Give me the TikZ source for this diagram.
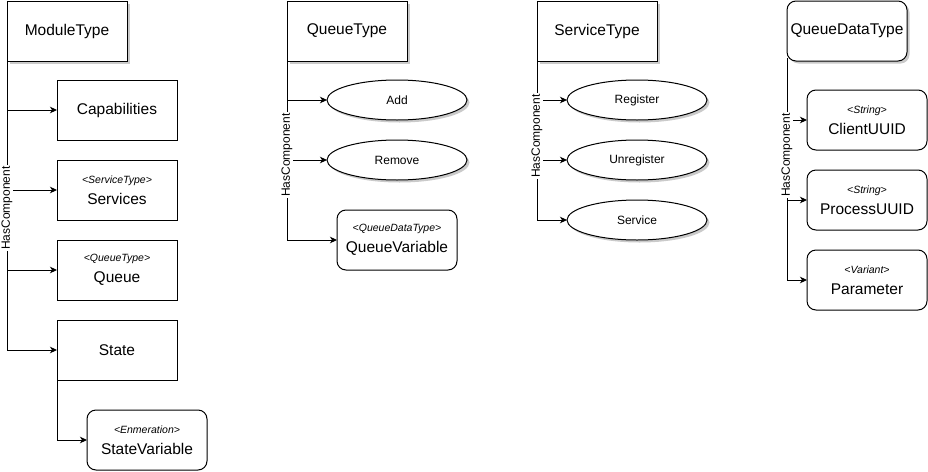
\documentclass[tikz,border=0pt]{standalone}
\usepackage{fontspec}
\setmainfont{Liberation Sans}
\usetikzlibrary{arrows.meta,shadows,shapes.geometric}
\newcommand{\stereo}[1]{{\fontsize{10.5}{12}\selectfont\itshape<#1>}}
\begin{document}
\begin{tikzpicture}[x=1pt,y=-1pt,
  shadowed/.style={drop shadow={shadow xshift=2.5pt, shadow yshift=-2.5pt, opacity=0.35, fill=black!60}},
  box/.style={draw, line width=1pt, fill=white, minimum width=120pt, minimum height=60pt,
    inner sep=1pt, outer sep=0pt, align=center, font=\fontsize{15.5}{18}\selectfont},
  topbox/.style={box, shadowed},
  rbox/.style={box, rounded corners=9pt},
  oval/.style={draw, ellipse, line width=1pt, fill=white, minimum width=140pt, minimum height=40pt,
    inner sep=0pt, outer sep=0pt, font=\fontsize{12}{14}\selectfont, shadowed},
  conn/.style={line width=1pt, -{Stealth[length=7pt,width=6.5pt,inset=2pt]}},
  lbl/.style={rotate=90, fill=white, inner sep=1pt, font=\fontsize{12}{14}\selectfont},
]
\useasboundingbox (0,0) rectangle (928,471);

% ModuleType
\node[topbox] (mt) at (67,31) {ModuleType};
\node[box] (cap) at (117,110) {Capabilities};
\node[box] (svc) at (117,190) {\stereo{ServiceType}\\[3pt]Services};
\node[box] (que) at (117,270) {\stereo{QueueType}\\[3pt]Queue};
\node[box] (st) at (117,350) {State};
\node[rbox] (sv) at (147,440) {\stereo{Enmeration}\\[3pt]StateVariable};

% QueueType
\node[topbox] (qt) at (347,31) {QueueType};
\node[oval] (add) at (397,100) {Add};
\node[oval] (rem) at (397,160) {Remove};
\node[rbox] (qv) at (397,240) {\stereo{QueueDataType}\\[3pt]QueueVariable};

% ServiceType
\node[topbox] (stt) at (597,31) {ServiceType};
\node[oval] (reg) at (637,100) {Register};
\node[oval] (unr) at (637,160) {Unregister};
\node[oval] (srv) at (637,220) {Service};

% QueueDataType
\node[topbox, rounded corners=9pt] (qdt) at (847,31) {QueueDataType};
\node[rbox] (cid) at (867,120) {\stereo{String}\\[3pt]ClientUUID};
\node[rbox] (pid) at (867,200) {\stereo{String}\\[3pt]ProcessUUID};
\node[rbox] (par) at (867,280) {\stereo{Variant}\\[3pt]Parameter};

% connectors
\draw[conn] (mt.south west) |- (cap.west);
\draw[conn] (mt.south west) |- (svc.west);
\draw[conn] (mt.south west) |- (que.west);
\draw[conn] (mt.south west) |- (st.west);
\draw[conn] (st.south west) |- (sv.west);

\draw[conn] (qt.south west) |- (add.west);
\draw[conn] (qt.south west) |- (rem.west);
\draw[conn] (qt.south west) |- (qv.west);

\draw[conn] (stt.south west) |- (reg.west);
\draw[conn] (stt.south west) |- (unr.west);
\draw[conn] (stt.south west) |- (srv.west);

\draw[conn] ([yshift=3pt]qdt.south west) |- (cid.west);
\draw[conn] ([yshift=3pt]qdt.south west) |- (pid.west);
\draw[conn] ([yshift=3pt]qdt.south west) |- (par.west);

% labels
\node[lbl] (l1) at (7,208) {HasComponent};
\node[lbl] (l2) at (287,155) {HasComponent};
\node[lbl] (l3) at (537,136) {HasComponent};
\node[lbl] (l4) at (787,155) {HasComponent};
\end{tikzpicture}
\end{document}
